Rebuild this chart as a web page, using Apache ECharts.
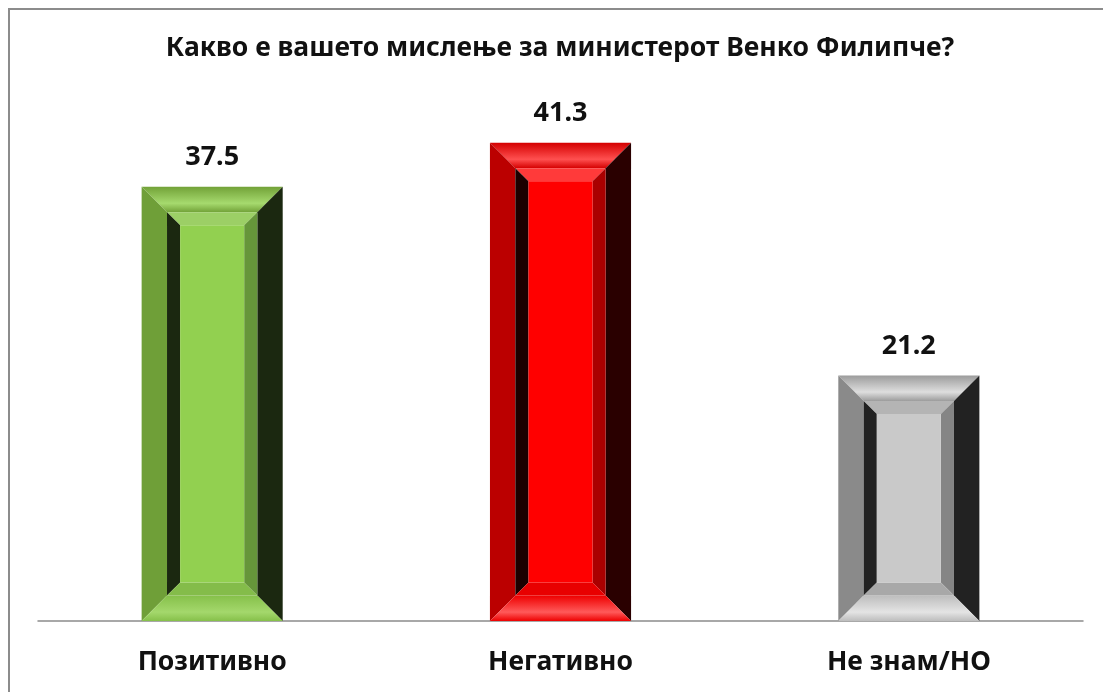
<!DOCTYPE html>
<html>
<head>
<meta charset="utf-8">
<script src="https://cdn.jsdelivr.net/npm/echarts@6/dist/echarts.min.js"></script>
<style>
html,body{margin:0;padding:0;background:#fff;overflow:hidden;}
#chart{width:1103px;height:692px;}
</style>
</head>
<body>
<div id="chart"></div>
<script>
const titleText = 'Какво е вашето мислење за министерот Венко Филипче?';
const categories = ['Позитивно', 'Негативно', 'Не знам/НО'];
const values = [37.5, 41.3, 21.2];

const palettes = [
  {panel:'#92d050', oTop:'#72a238', oTopHi:'#a6da6e', oLeft:'#6f9f38', oRight:'#1b2810', oBottom:'#86c04a', oBottomHi:'#a4d86c', rLeft:'#1b2810', rTop:'#9ccf66', rRight:'#66963a', rBottom:'#84bc4a'},
  {panel:'#ff0000', oTop:'#d40000', oTopHi:'#ff5050', oLeft:'#bb0000', oRight:'#2a0000', oBottom:'#ee0000', oBottomHi:'#ff5a5a', rLeft:'#1c0000', rTop:'#ff3a3a', rRight:'#aa0000', rBottom:'#e80000'},
  {panel:'#c9c9c9', oTop:'#9c9c9c', oTopHi:'#dedede', oLeft:'#8a8a8a', oRight:'#222222', oBottom:'#bdbdbd', oBottomHi:'#e4e4e4', rLeft:'#222222', rTop:'#b4b4b4', rRight:'#858585', rBottom:'#a8a8a8'}
];

function poly(pts, fill) {
  return {type:'polygon', shape:{points:pts}, style:{fill:fill}};
}
function vgrad(c0, c1, c2) {
  return {type:'linear', x:0, y:0, x2:0, y2:1, colorStops:[{offset:0,color:c0},{offset:0.65,color:c1},{offset:1,color:c2}]};
}

function renderItem(params, api) {
  const idx = api.value(0);
  const v = api.value(1);
  const topPt = api.coord([idx, v]);
  const basePt = api.coord([idx, 0]);
  const bw = api.size([1, 0])[0] * 0.405;
  const p = palettes[params.dataIndex];
  const x0 = topPt[0] - bw / 2, x1 = topPt[0] + bw / 2;
  const y0 = topPt[1], y1 = basePt[1];
  const b1 = bw * 0.18, b2 = bw * 0.093;
  const a0 = x0 + b1, a1 = x1 - b1, c0 = y0 + b1, c1 = y1 - b1;
  const q0 = a0 + b2, q1 = a1 - b2, d0 = c0 + b2, d1 = c1 - b2;
  const children = [
    poly([[x0,y0],[x1,y0],[a1,c0],[a0,c0]], vgrad(p.oTop, p.oTopHi, p.oTop)),
    poly([[x0,y0],[a0,c0],[a0,c1],[x0,y1]], p.oLeft),
    poly([[x1,y0],[x1,y1],[a1,c1],[a1,c0]], p.oRight),
    poly([[x0,y1],[x1,y1],[a1,c1],[a0,c1]], vgrad(p.oBottom, p.oBottomHi, p.oBottom)),
    poly([[a0,c0],[a1,c0],[q1,d0],[q0,d0]], p.rTop),
    poly([[a0,c0],[q0,d0],[q0,d1],[a0,c1]], p.rLeft),
    poly([[a1,c0],[a1,c1],[q1,d1],[q1,d0]], p.rRight),
    poly([[a0,c1],[a1,c1],[q1,d1],[q0,d1]], p.rBottom),
    {type:'rect', shape:{x:q0, y:d0, width:q1-q0, height:d1-d0}, style:{fill:p.panel}},
    {type:'text', style:{text:String(values[params.dataIndex]), x:topPt[0], y:y0 - 16, align:'center', verticalAlign:'bottom', fill:'#111', font:'bold 27px "Noto Sans"'}}
  ];
  return {type:'group', children:children};
}

const chart = echarts.init(document.getElementById('chart'));
chart.setOption({
  animation:false,
  backgroundColor:'#fff',
  title:{
    text:titleText,
    left:555, top:30, textAlign:'center',
    textStyle:{fontFamily:'Noto Sans', fontWeight:'bold', fontSize:26.5, color:'#111'}
  },
  graphic:[
    {type:'polyline', shape:{points:[[9,692],[9,9],[1103,9]]}, style:{fill:'none', stroke:'#8c8c8c', lineWidth:2}, z:10}
  ],
  grid:{left:38, right:20, top:100, bottom:71, containLabel:false},
  xAxis:{
    type:'category', data:categories,
    axisLine:{lineStyle:{color:'#8c8c8c', width:1.5}},
    axisTick:{show:false},
    axisLabel:{margin:28, fontFamily:'Noto Sans', fontWeight:'bold', fontSize:26.5, color:'#111'}
  },
  yAxis:{type:'value', min:0, max:45, show:false, splitLine:{show:false}},
  series:[{
    type:'custom',
    renderItem:renderItem,
    data:values.map((v,i)=>[i,v]),
    encode:{x:0, y:1}
  }]
});
</script>
</body>
</html>
